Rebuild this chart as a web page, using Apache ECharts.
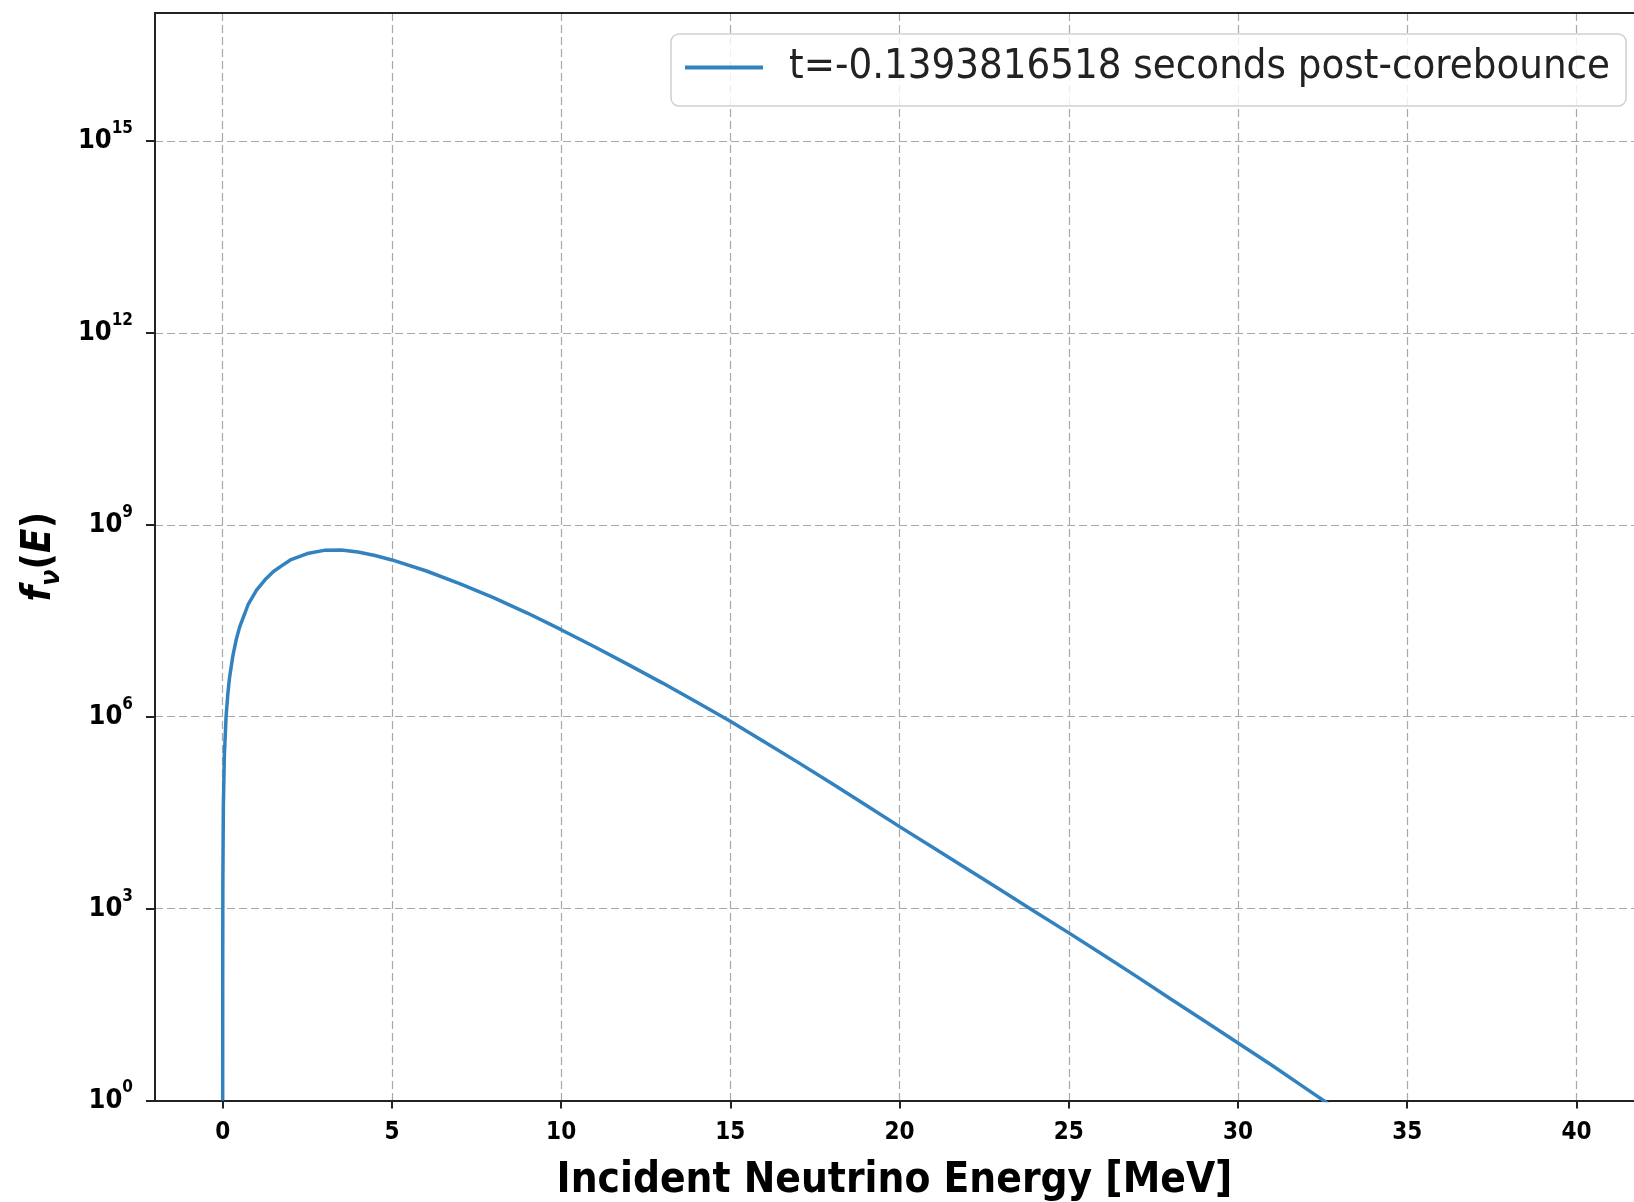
<!DOCTYPE html>
<html>
<head>
<meta charset="utf-8">
<script src="https://cdn.jsdelivr.net/npm/echarts@6/dist/echarts.min.js"></script>
<style>
html,body{margin:0;padding:0;background:#fff;}
#chart{width:1634px;height:1202px;}
</style>
</head>
<body>
<div id="chart"></div>
<script>
// Incident neutrino energy [MeV]
const energy = [0.0001, 0.001, 0.005, 0.02, 0.05, 0.1, 0.15, 0.2, 0.3, 0.4, 0.5, 0.75, 1.0, 1.25, 1.5, 1.75, 2.0, 2.5, 3.0, 3.5, 4.0, 4.5,
  5, 6, 7, 8, 9, 10, 11, 12, 13, 14, 15, 16, 17, 18, 19, 20, 21, 22, 23, 24, 25, 26, 27, 28, 29, 30,
  31, 32, 33, 34, 35, 36, 37, 38, 39, 40];
// f_nu(E)
const flux = [1, 1e2, 2.51e3, 3.98e4, 2.51e5, 1.0e6, 2.2e6, 3.98e6, 8.91e6, 1.6e7, 2.51e7, 5.62e7, 9.55e7, 1.38e8, 1.86e8, 2.3e8, 2.82e8, 3.55e8, 3.98e8, 4.03e8, 3.76e8, 3.31e8,
  2.82e8, 1.91e8, 1.20e8, 7.24e7, 4.17e7, 2.29e7, 1.23e7, 6.46e6, 3.35e6, 1.70e6, 8.51e5, 4.07e5, 1.93e5, 9.02e4, 4.17e4, 1.91e4,
  8.91e3, 4.17e3, 1.93e3, 891, 417, 191, 87.1, 38.9, 17.6, 7.94,
  3.55, 1.55, 0.676, 0.295, 0.126, 0.0537, 0.0229, 0.00955, 0.00398, 0.00166];
const xTicks = [0, 5, 10, 15, 20, 25, 30, 35, 40];
const yTicks = [1, 1e3, 1e6, 1e9, 1e12, 1e15];
const seriesName = 't=-0.1393816518 seconds post-corebounce';
const xTitle = 'Incident Neutrino Energy [MeV]';

const FONT = '"DejaVu Sans Condensed", "DejaVu Sans", sans-serif';
const LINE_COLOR = '#3282c0';
const chart = echarts.init(document.getElementById('chart'), null, {renderer: 'canvas'});
const gridLine = {show: true, lineStyle: {color: '#a8a8a8', width: 1.2, type: [8, 4]}};

chart.setOption({
  animation: false,
  backgroundColor: '#ffffff',
  grid: {left: 155, right: 0, top: 13, bottom: 101.5, containLabel: false, outerBoundsMode: 'none'},
  legend: {
    show: true,
    left: 671, top: 34,
    padding: [11, 16, 16, 14],
    itemWidth: 78, itemHeight: 4,
    icon: 'rect',
    backgroundColor: 'rgba(255,255,255,0.8)',
    borderColor: '#d0d0d0', borderWidth: 1.5, borderRadius: 8,
    textStyle: {fontFamily: FONT, fontSize: 41.5, color: '#222', lineHeight: 45, padding: [0, 0, 0, 21]},
    data: [seriesName]
  },
  xAxis: [{
    type: 'value', min: -2, max: 41.7, position: 'bottom',
    name: xTitle, nameLocation: 'middle', nameGap: 60,
    nameTextStyle: {fontFamily: FONT, fontWeight: 'bold', fontSize: 42, color: '#000', lineHeight: 42},
    axisLine: {show: true, onZero: false, lineStyle: {color: '#222', width: 2}},
    axisTick: {show: true, length: 8, lineStyle: {color: '#222', width: 2}, customValues: xTicks},
    axisLabel: {show: true, margin: 20, customValues: xTicks, fontFamily: FONT, fontWeight: 'bold', fontSize: 24, color: '#000', lineHeight: 24},
    splitLine: gridLine
  }, {
    type: 'value', min: -2, max: 41.7, position: 'top',
    axisLine: {show: true, onZero: false, lineStyle: {color: '#222', width: 2}},
    axisTick: {show: false}, axisLabel: {show: false}, splitLine: {show: false}
  }],
  yAxis: {
    type: 'log', logBase: 10, min: 1, max: 1e17,
    name: '{i|f}{sub|ν}{r|(}{i|E}{r|)}', nameLocation: 'middle', nameGap: 90, nameRotate: 90,
    nameTextStyle: {
      rich: {
        i: {fontFamily: FONT, fontStyle: 'italic', fontWeight: 'bold', fontSize: 40, lineHeight: 50, color: '#000'},
        r: {fontFamily: FONT, fontWeight: 'bold', fontSize: 40, lineHeight: 50, color: '#000'},
        sub: {fontFamily: FONT, fontStyle: 'italic', fontWeight: 'bold', fontSize: 27, lineHeight: 27, verticalAlign: 'bottom', color: '#000'}
      }
    },
    axisLine: {show: true, onZero: false, lineStyle: {color: '#222', width: 2}},
    axisTick: {show: true, length: 9, lineStyle: {color: '#222', width: 2}, customValues: yTicks},
    axisLabel: {
      show: true, margin: 22, customValues: yTicks,
      formatter: function (v) { return '{b|10}{s|' + Math.round(Math.log10(v)) + '}'; },
      rich: {
        b: {fontFamily: FONT, fontWeight: 'bold', fontSize: 27, lineHeight: 42, color: '#000'},
        s: {fontFamily: FONT, fontWeight: 'bold', fontSize: 17, lineHeight: 17, verticalAlign: 'top', color: '#000'}
      }
    },
    splitLine: gridLine
  },
  series: [{
    name: seriesName,
    type: 'line',
    xAxisIndex: 0,
    data: energy.map((e, i) => [e, flux[i]]),
    showSymbol: false, symbol: 'none',
    smooth: false,
    clip: true,
    lineStyle: {color: LINE_COLOR, width: 3.5},
    itemStyle: {color: LINE_COLOR}
  }]
});
</script>
</body>
</html>
